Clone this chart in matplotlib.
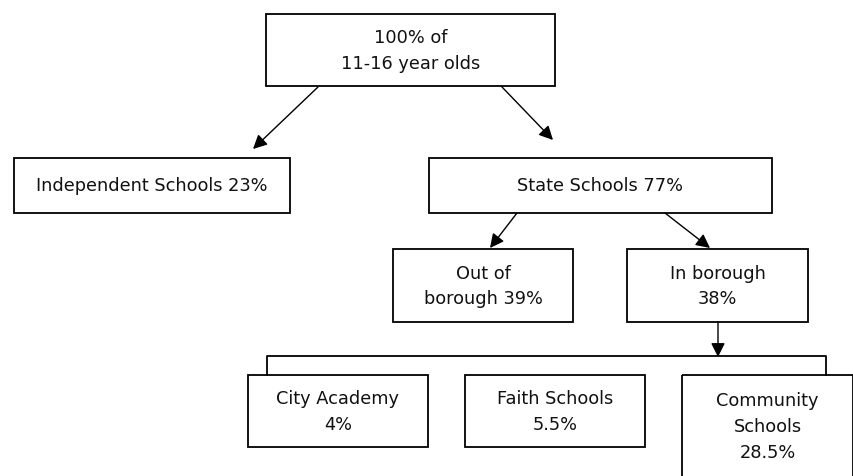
import matplotlib.pyplot as plt
from matplotlib.patches import Rectangle

# node labels (the data)
top_label = "100% of\n11-16 year olds"
level1 = ["Independent Schools 23%", "State Schools 77%"]
level2 = ["Out of\nborough 39%", "In borough\n38%"]
level3 = ["City Academy\n4%", "Faith Schools\n5.5%", "Community\nSchools\n28.5%"]

# layout in pixels: (left, top, right, bottom)
top_box = (266, 15, 555, 87)
l1_boxes = [(14, 159, 290, 214), (429, 159, 772, 214)]
l2_boxes = [(393, 250, 573, 323), (627, 250, 808, 323)]
l3_boxes = [(248, 376, 428, 448), (465, 376, 645, 448), (682, 376, 853, 490)]

fig = plt.figure(figsize=(8.54, 4.77), dpi=100)
ax = fig.add_axes([0, 0, 1, 1])
ax.set_xlim(0, 854)
ax.set_ylim(477, 0)
ax.axis('off')

FS = 12.8

def box(b, label, text_y=None):
	x0, y0, x1, y1 = b
	ax.add_patch(Rectangle((x0, y0), x1 - x0, y1 - y0, fill=False,
		edgecolor='black', linewidth=1.3))
	if text_y is None:
		text_y = (y0 + y1) / 2.0
	ax.text((x0 + x1) / 2.0, text_y, label, ha='center', va='center',
		fontsize=FS, family='DejaVu Sans', linespacing=1.55, color='#111111')

def arrow(p0, p1):
	ax.annotate("", xy=p1, xytext=p0,
		arrowprops=dict(arrowstyle='-|>,head_length=0.7,head_width=0.35',
			color='black', lw=1.0, mutation_scale=12, shrinkA=0, shrinkB=0))

box(top_box, top_label)
for b, lab in zip(l1_boxes, level1):
	box(b, lab)
for b, lab in zip(l2_boxes, level2):
	box(b, lab)
box(l3_boxes[0], level3[0])
box(l3_boxes[1], level3[1])
box(l3_boxes[2], level3[2], text_y=427)

arrow((318, 88), (253, 150))
arrow((502, 88), (553, 141))
arrow((517, 214), (490, 249))
arrow((665, 214), (710, 249))
arrow((718, 323), (718, 358))

# bracket over the bottom row
ax.plot([267, 267, 826, 826], [376, 357, 357, 376], color='black', lw=1.3)

fig.savefig("out.png", dpi=100)
